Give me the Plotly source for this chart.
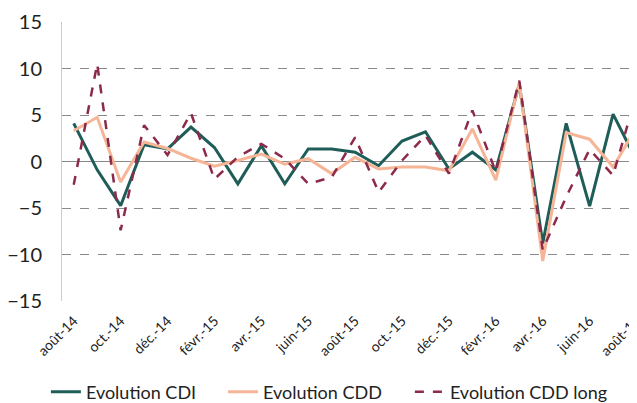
import plotly.graph_objects as go

months = ["août-14", "sept.-14", "oct.-14", "nov.-14", "déc.-14", "janv.-15", "févr.-15",
          "mars-15", "avr.-15", "mai-15", "juin-15", "juil.-15", "août-15", "sept.-15",
          "oct.-15", "nov.-15", "déc.-15", "janv.-16", "févr.-16", "mars-16", "avr.-16",
          "mai-16", "juin-16", "juil.-16", "août-16"]
tick_labels = months[::2]

cdi = [4.1, -0.9, -4.75, 1.8, 1.35, 3.7, 1.5, -2.4, 1.7, -2.4, 1.35, 1.35, 1.0, -0.45,
       2.2, 3.2, -0.8, 1.0, -0.9, 8.3, -8.8, 4.1, -4.8, 5.1, 0.1]
cdd = [3.3, 4.75, -2.2, 2.1, 1.4, 0.35, -0.5, 0.1, 0.8, -0.3, 0.3, -1.3, 0.45, -0.8,
       -0.6, -0.6, -1.0, 3.5, -2.0, 8.5, -10.7, 3.1, 2.4, -0.6, 3.7]
cdd_long = [-2.5, 10.5, -7.4, 3.9, 0.7, 5.2, -1.9, 0.5, 1.9, 0.3, -2.4, -1.7, 2.6, -3.3,
            0.1, 2.8, -1.3, 5.5, -1.1, 8.7, -9.5, -3.8, 1.3, -1.5, 7.3]

FONT = "Lato, Open Sans, sans-serif"

fig = go.Figure()
fig.add_trace(go.Scatter(x=months, y=cdi, mode="lines", name="Evolution CDI",
                         legend="legend",
                         line=dict(color="#1F5D59", width=3)))
fig.add_trace(go.Scatter(x=months, y=cdd, mode="lines", name="Evolution CDD",
                         legend="legend2",
                         line=dict(color="#F6B597", width=3)))
fig.add_trace(go.Scatter(x=months, y=cdd_long, mode="lines", name="Evolution CDD long",
                         legend="legend3",
                         line=dict(color="#8C2A4A", width=2.5, dash="dash")))

leg_common = dict(orientation="h", xanchor="left", y=-0.326, yanchor="middle",
                  font=dict(size=18, family=FONT), itemwidth=30,
                  bgcolor="rgba(0,0,0,0)")

# the page body adds an 8px offset, so the figure is 8px smaller than the window
fig.update_layout(
    width=629, height=395,
    margin=dict(l=54, r=0, t=14, b=102, autoexpand=False),
    paper_bgcolor="white", plot_bgcolor="white",
    font=dict(family=FONT, color="#222222"),
    showlegend=True,
    legend=dict(x=-0.028, **leg_common),
    legend2=dict(x=0.280, **leg_common),
    legend3=dict(x=0.605, **leg_common),
)
fig.update_xaxes(
    type="category", range=[-0.5, 24.02], automargin=False,
    tickmode="array", tickvals=tick_labels, ticktext=tick_labels,
    tickangle=-45, tickfont=dict(size=14, family=FONT),
    ticklabelstandoff=8,
    showgrid=False, zeroline=False, showline=False, ticks="",
)
fig.update_yaxes(
    range=[-15, 15], tickvals=[-15, -10, -5, 0, 5, 10, 15], automargin=False,
    tickfont=dict(size=20, family=FONT),
    showgrid=True, gridcolor="#8A8A8A", griddash="dash", gridwidth=1,
    zeroline=True, zerolinecolor="#8A8A8A", zerolinewidth=1,
    showline=True, linecolor="#C5CBDD", linewidth=1,
    ticklabelstandoff=15,
)

fig.write_html("out.html")
